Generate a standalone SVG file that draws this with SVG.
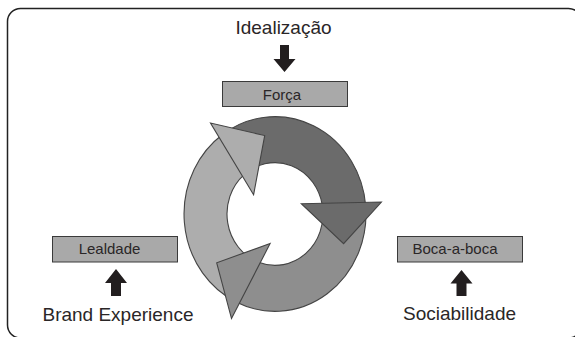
<svg xmlns="http://www.w3.org/2000/svg" width="575" height="337" viewBox="0 0 575 337">
  <style>
    .frame { fill: #ffffff; stroke: #222222; stroke-width: 1.5; }
    .box { fill: #a9a9a9; stroke: #3a3a3a; stroke-width: 1; }
    .box-label { font-family: "Liberation Sans", Arial, sans-serif; font-size: 15px; fill: #2a2627; text-anchor: middle; }
    .label { font-family: "Liberation Sans", Arial, sans-serif; font-size: 19px; fill: #2a2627; text-anchor: middle; }
    .pointer { fill: #221e1f; }
    .seg { stroke: #444444; stroke-width: 1.1; stroke-linejoin: miter; vector-effect: non-scaling-stroke; }
    .dark { fill: #6b6b6b; }
    .mid { fill: #8e8e8e; }
    .light { fill: #adadad; }
  </style>

  <!-- outer panel (right and bottom edges run past the canvas) -->
  <rect class="frame" x="7.5" y="8.5" width="574" height="329.5" rx="13" ry="13"/>

  <!-- cycle of three curved arrows -->
  <g id="cycle" transform="translate(275,214) scale(1,1.07)">
    <!-- bands first -->
    <path class="seg dark" d="M -52.2,-74.5 A 91 91 0 0 1 90.65,-7.93 L 47.27,-8.34 A 48 48 0 0 0 -30.85,-36.77 Z"/>
    <path class="seg mid" d="M 90.65,-7.93 A 91 91 0 0 1 -38.46,82.47 L -16.42,45.11 A 48 48 0 0 0 47.27,-8.34 Z"/>
    <path class="seg light" d="M -38.46,82.47 A 91 91 0 0 1 -52.2,-74.5 L -30.85,-36.77 A 48 48 0 0 0 -16.42,45.11 Z"/>
    <!-- arrowheads on top -->
    <polygon class="seg dark" points="26.3,-9.6 106.4,-11.2 68.6,27.7"/>
    <polygon class="seg mid" points="-4.9,27.6 -43.5,97.7 -58.3,45.6"/>
    <polygon class="seg light" points="-21.4,-18 -64.5,-85 -10.3,-73.3"/>
  </g>

  <!-- nodes -->
  <g id="idealizacao">
    <text class="label" x="283.5" y="34">Idealização</text>
  </g>
  <g id="forca">
    <rect class="box" x="222.5" y="81.5" width="125" height="25"/>
    <text class="box-label" x="282" y="100">Força</text>
  </g>
  <g id="lealdade">
    <rect class="box" x="52.5" y="236.5" width="125" height="25.5"/>
    <text class="box-label" x="109.5" y="254">Lealdade</text>
  </g>
  <g id="boca-a-boca">
    <rect class="box" x="397.5" y="236.5" width="125" height="25.5"/>
    <text class="box-label" x="455" y="254">Boca-a-boca</text>
  </g>
  <g id="brand-experience">
    <text class="label" x="118" y="320.5">Brand Experience</text>
  </g>
  <g id="sociabilidade">
    <text class="label" x="459.5" y="320">Sociabilidade</text>
  </g>

  <!-- connectors: block arrows from each driver to its box -->
  <g id="connectors">
    <path class="pointer" d="M280,45 L289,45 L289,59 L295.5,59 L284.5,72 L273.5,59 L280,59 Z"/>
    <path class="pointer" d="M116,269 L127,283 L121,283 L121,296 L111,296 L111,283 L105,283 Z"/>
    <path class="pointer" d="M461.5,270 L472.5,283.5 L466.5,283.5 L466.5,296 L456.5,296 L456.5,283.5 L450.5,283.5 Z"/>
  </g>
</svg>
